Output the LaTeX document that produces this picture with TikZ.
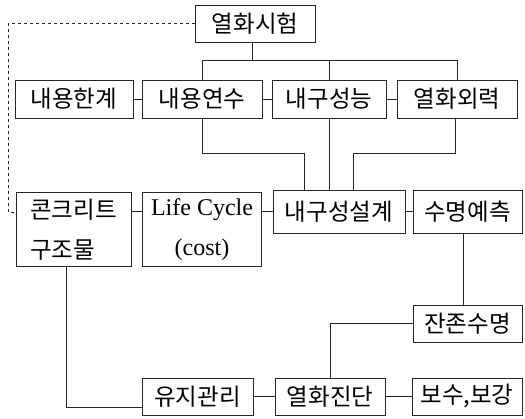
\documentclass[tikz,border=0pt]{standalone}
\usepackage{fontspec}
\newfontfamily\kr{Noto Sans CJK KR}
\newfontfamily\lat{Liberation Serif}
\begin{document}
\begin{tikzpicture}[x=1pt,y=-1pt,
  box/.style={draw=black!85,line width=0.8pt,inner sep=0pt,font=\kr\fontsize{23.5}{40}\selectfont},
  ln/.style={draw=black!85,line width=0.8pt}]
\useasboundingbox (0,0) rectangle (525,419);
\node[box,minimum width=120,minimum height=37] (t1) at (255,23.5) {열화시험};
\node[box,minimum width=118,minimum height=38] (a) at (74,99) {내용한계};
\node[box,minimum width=120,minimum height=38] (b) at (202,99) {내용연수};
\node[box,minimum width=114,minimum height=38] (c) at (329,99) {내구성능};
\node[box,minimum width=120,minimum height=38] (d) at (457,99) {열화외력};
\node[box,minimum width=115,minimum height=74,align=left] (e) at (73.5,229.5) {콘크리트\\구조물};
\node[box,minimum width=119,minimum height=74,align=center,font=\lat\fontsize{24}{40}\selectfont] (f) at (202,229.5) {Life Cycle\\(cost)};
\node[box,minimum width=132,minimum height=43] (g) at (339,211.5) {내구성설계};
\node[box,minimum width=109,minimum height=43] (h) at (467.5,211.5) {수명예측};
\node[box,minimum width=109,minimum height=37] (i) at (467.5,323.5) {잔존수명};
\node[box,minimum width=111,minimum height=37] (j) at (197.5,396.5) {유지관리};
\node[box,minimum width=110,minimum height=37] (k) at (330,396.5) {열화진단};
\node[box,minimum width=110,minimum height=37] (l) at (467,396.5) {보수,보강};
% top bus
\draw[ln] (t1.south -| 252,0) -- (252,60);
\draw[ln] (b.north) -- (b.north |- 0,60) -- (d.north |- 0,60) -- (d.north);
\draw[ln] (c.north) -- (c.north |- 0,60);
% row 2 links
\draw[ln] (a.east) -- (b.west);
\draw[ln] (b.east) -- (c.west);
\draw[ln] (c.east) -- (d.west);
% to design
\draw[ln] (b.south) -- (b.south |- 0,153) -- (304,153) -- (g.north -| 304,0);
\draw[ln] (c.south) -- (c.south |- g.north);
\draw[ln] (d.south -| 455,0) -- (455,153) -- (353,153) -- (g.north -| 353,0);
% row 3 links
\draw[ln] (e.east |- g) -- (f.west |- g);
\draw[ln] (f.east |- g) -- (g.west);
\draw[ln] (g.east) -- (h.west);
% dashed
\draw[ln,dashed] (t1.west) -- (t1.west -| 8,0) -- (8,212) -- (e.west |- 0,212);
% bottom
\draw[ln] (e.south -| 66,0) -- (66,407) -- (j.west |- 0,407);
\draw[ln] (h.south -| 463,0) -- (i.north -| 463,0);
\draw[ln] (i.west) -| (k.north);
\draw[ln] (j.east) -- (k.west);
\draw[ln] (k.east) -- (l.west);
\end{tikzpicture}
\end{document}
